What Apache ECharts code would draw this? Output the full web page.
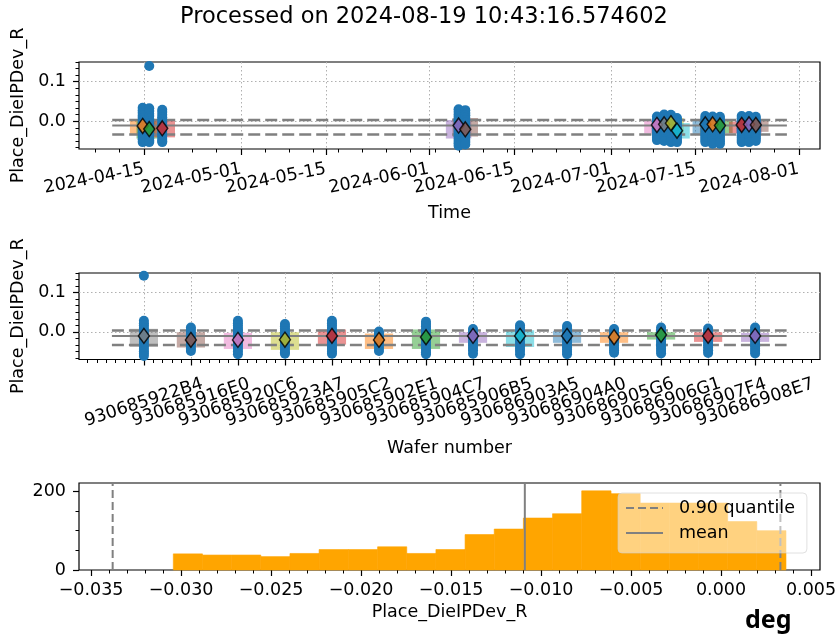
<!DOCTYPE html>
<html>
<head>
<meta charset="utf-8">
<script src="https://cdn.jsdelivr.net/npm/echarts@6/dist/echarts.min.js"></script>
<style>
  html, body { margin: 0; padding: 0; background: #fff; }
  #chart { width: 838px; height: 634px; }
</style>
</head>
<body>
<div id="chart"></div>
<script>
// ---------------- data ----------------
const chartTitle = 'Processed on 2024-08-19 10:43:16.574602';
const measureName = 'Place_DieIPDev_R';
const unitText = 'deg';

// measurement runs in time order
const runTimes = [
  '2024-04-14T19:00', '2024-04-15T21:00', '2024-04-18T00:30',
  '2024-06-05T21:30', '2024-06-07T00:00',
  '2024-07-08T14:30', '2024-07-09T19:00', '2024-07-10T22:00', '2024-07-11T22:00',
  '2024-07-16T14:00', '2024-07-17T19:00', '2024-07-19T00:00',
  '2024-07-22T14:00', '2024-07-23T19:00', '2024-07-24T22:00'
];
const runMeans = [-0.012, -0.020, -0.018, -0.011, -0.0206, -0.0095, -0.008, -0.005, -0.024,
  -0.008, -0.008, -0.011, -0.0095, -0.008, -0.0095];
const runLow = [-0.0325, -0.044, -0.041, -0.044, -0.039, -0.031, -0.035, -0.030, -0.044,
  -0.035, -0.030, -0.030, -0.031, -0.030, -0.027];
const runHigh = [0.0015, 0.000, 0.003, 0.003, 0.008, 0.003, 0.005, 0.008, -0.005,
  0.003, 0.005, 0.003, -0.001, 0.002, 0.003];
const runValues = [
  [0.034, 0.027, 0.021, 0.014, 0.008, 0.002, -0.004, -0.010, -0.016, -0.022, -0.028, -0.034, -0.040, -0.046, -0.053],
  [0.140, 0.033, 0.026, 0.019, 0.013, 0.006, 0.000, -0.006, -0.012, -0.018, -0.025, -0.031, -0.037, -0.043, -0.049, -0.053],
  [0.029, 0.023, 0.016, 0.010, 0.004, -0.003, -0.009, -0.015, -0.021, -0.027, -0.033, -0.039, -0.045, -0.050, -0.053],
  [0.030, 0.024, 0.017, 0.011, 0.005, -0.001, -0.008, -0.014, -0.020, -0.026, -0.032, -0.038, -0.044, -0.050, -0.056, -0.062],
  [0.028, 0.021, 0.015, 0.009, 0.003, -0.004, -0.010, -0.016, -0.022, -0.028, -0.035, -0.041, -0.047, -0.053, -0.059],
  [0.012, 0.006, 0.000, -0.006, -0.012, -0.018, -0.024, -0.030, -0.036, -0.042, -0.048],
  [0.017, 0.011, 0.004, -0.002, -0.008, -0.014, -0.020, -0.027, -0.033, -0.039, -0.045, -0.050],
  [0.016, 0.010, 0.003, -0.003, -0.009, -0.016, -0.022, -0.028, -0.034, -0.040, -0.047, -0.053],
  [0.008, 0.002, -0.004, -0.010, -0.017, -0.023, -0.029, -0.035, -0.041, -0.047, -0.053],
  [0.013, 0.007, 0.001, -0.005, -0.011, -0.018, -0.024, -0.030, -0.036, -0.042, -0.048, -0.053],
  [0.012, 0.006, -0.001, -0.007, -0.013, -0.019, -0.025, -0.031, -0.038, -0.044, -0.050, -0.057],
  [0.011, 0.005, -0.002, -0.008, -0.014, -0.020, -0.026, -0.032, -0.039, -0.045, -0.051, -0.057],
  [0.013, 0.007, 0.000, -0.006, -0.012, -0.018, -0.024, -0.030, -0.036, -0.042, -0.048, -0.053],
  [0.013, 0.006, 0.000, -0.006, -0.013, -0.019, -0.025, -0.031, -0.037, -0.043, -0.049, -0.053],
  [0.011, 0.005, -0.001, -0.007, -0.013, -0.019, -0.026, -0.032, -0.038, -0.044, -0.050]
];

// per wafer
const waferNames = ['930685922B4', '930685916E0', '930685920C6', '930685923A7', '930685905C2',
  '930685902E1', '930685904C7', '930685906B5', '930686903A5', '930686904A0', '930686905G6',
  '930686906G1', '930686907F4', '930686908E7'];
const waferMeans = [-0.0103, -0.0205, -0.0205, -0.020, -0.0103, -0.0205, -0.0137,
  -0.0103, -0.0103, -0.0103, -0.0137, -0.0077, -0.0103, -0.0103];
const waferLow = [-0.0385, -0.040, -0.0436, -0.046, -0.0325, -0.0436, -0.0436,
  -0.028, -0.0385, -0.028, -0.028, -0.0197, -0.0256, -0.0256];
const waferHigh = [0.0077, -0.001, -0.0026, -0.001, 0.006, -0.0043, 0.006,
  -0.001, 0.004, 0.0026, -0.001, -0.001, -0.001, -0.0026];
const waferValues = [
  [0.143, 0.028, 0.022, 0.016, 0.010, 0.004, -0.002, -0.008, -0.014, -0.020, -0.026, -0.032, -0.038, -0.044, -0.050, -0.056, -0.0615],
  [0.011, 0.005, -0.001, -0.007, -0.013, -0.019, -0.025, -0.031, -0.037, -0.043, -0.049],
  [0.028, 0.022, 0.016, 0.010, 0.004, -0.002, -0.008, -0.014, -0.020, -0.026, -0.032, -0.038, -0.044, -0.050, -0.057],
  [0.020, 0.014, 0.008, 0.002, -0.004, -0.010, -0.016, -0.022, -0.028, -0.034, -0.040, -0.046, -0.052, -0.0556],
  [0.028, 0.022, 0.016, 0.010, 0.004, -0.002, -0.008, -0.014, -0.020, -0.026, -0.032, -0.038, -0.044, -0.050, -0.0556],
  [0.001, -0.005, -0.011, -0.017, -0.023, -0.029, -0.035, -0.041, -0.049],
  [0.026, 0.020, 0.014, 0.008, 0.002, -0.004, -0.010, -0.016, -0.022, -0.028, -0.034, -0.040, -0.046, -0.052, -0.057],
  [0.007, 0.001, -0.005, -0.011, -0.017, -0.023, -0.029, -0.035, -0.041, -0.047, -0.0556],
  [0.017, 0.011, 0.005, -0.001, -0.007, -0.013, -0.019, -0.025, -0.031, -0.037, -0.043, -0.049, -0.057],
  [0.015, 0.009, 0.003, -0.003, -0.009, -0.015, -0.021, -0.027, -0.033, -0.039, -0.045, -0.051, -0.057],
  [0.007, 0.001, -0.005, -0.011, -0.017, -0.023, -0.029, -0.035, -0.041, -0.047, -0.053],
  [0.011, 0.005, -0.001, -0.007, -0.013, -0.019, -0.025, -0.031, -0.037, -0.043, -0.049, -0.055],
  [0.0085, 0.002, -0.004, -0.010, -0.016, -0.022, -0.028, -0.034, -0.040, -0.047, -0.054],
  [0.011, 0.005, -0.001, -0.007, -0.013, -0.019, -0.025, -0.031, -0.037, -0.043, -0.049, -0.055]
];

// summary statistics
const overallMean = -0.0109;
const quantileLow = -0.0338;
const quantileHigh = 0.0033;

// histogram of all values
const histEdges = [-0.03043, -0.02881, -0.02719, -0.02557, -0.02395, -0.02233, -0.02070,
  -0.01908, -0.01746, -0.01584, -0.01422, -0.01260, -0.01098, -0.00936, -0.00774,
  -0.00611, -0.00449, -0.00287, -0.00125, 0.00037, 0.00199, 0.00361];
const histCounts = [41, 38, 38, 34, 42, 52, 52, 59, 42, 52, 90, 104, 132, 143, 201, 194,
  170, 170, 170, 123, 100];

// tick labels
const timeTicks = ['2024-04-15', '2024-05-01', '2024-05-15', '2024-06-01', '2024-06-15',
  '2024-07-01', '2024-07-15', '2024-08-01'];
const valueTicks = [0.0, 0.1];
const histValueTicks = [-0.035, -0.030, -0.025, -0.020, -0.015, -0.010, -0.005, 0.000, 0.005];
const histCountTicks = [0, 200];
const quantileLabel = '0.90 quantile';
const meanLabel = 'mean';

// ---------------- layout & style ----------------
const FONT = 'DejaVu Sans';
const FS = 17.5;
const TAB = {
  blue: '#1f77b4', orange: '#ff7f0e', green: '#2ca02c', red: '#d62728', purple: '#9467bd',
  brown: '#8c564b', pink: '#e377c2', gray: '#7f7f7f', olive: '#bcbd22', cyan: '#17becf'
};
const runColors = ['orange', 'green', 'red', 'purple', 'brown', 'pink', 'gray', 'olive', 'cyan',
  'blue', 'orange', 'green', 'red', 'purple', 'brown'];
const waferColors = ['gray', 'brown', 'pink', 'olive', 'red', 'orange', 'green', 'purple', 'cyan',
  'blue', 'orange', 'green', 'red', 'purple'];

const DAY = 86400000;
const ms = s => Date.parse((s.length === 10 ? s + 'T00:00' : s) + ':00Z');
const timeMin = ms('2024-04-04T07:00');
const timeMax = ms('2024-08-04T12:00');
const lineStartTime = ms('2024-04-09T18:30');
const lineEndTime = ms('2024-07-30T01:00');
const runHalfWidth = 2.1 * DAY;
const waferHalfWidth = 0.3;
const catMin = -1.38, catMax = 14.38, catLineStart = -0.68, catLineEnd = 13.67;
const yMin = -0.0705, yMax = 0.15;
const hxMin = -0.03567, hxMax = 0.0055, hyMax = 221;

const pad2 = n => String(n).padStart(2, '0');
const fmtDate = v => { const d = new Date(v); return d.getUTCFullYear() + '-' + pad2(d.getUTCMonth() + 1) + '-' + pad2(d.getUTCDate()); };
const fmtSigned = (v, dp) => (v < -1e-12 ? '\u2212' : '') + Math.abs(v).toFixed(dp);

// minor tick positions (axis decoration)
const minorTimes = [];
for (let t = ms('2024-04-07'); t <= timeMax; t += 4 * DAY) minorTimes.push(t);
const minorY = [];
for (let k = -4; k <= 9; k++) minorY.push(k / 60);
const minorCat = [];
for (let k = -6; k <= 71; k++) minorCat.push(k / 5);
const minorHistX = [];
for (let k = -35; k <= 5; k++) minorHistX.push(k / 1000);
const minorHistY = [50, 100, 150];

const timeTickValues = timeTicks.map(ms);
const waferIdx = waferNames.map((n, i) => i);
// labels split over interleaved axes so neighbouring rotated labels may overlap freely
const every = (arr, n, k) => arr.filter((v, i) => i % n === k);

const labelStyle = { fontFamily: FONT, fontSize: FS, color: '#000' };
const tickLine = { color: '#000', width: 1.2 };
const gridLine = { show: true, lineStyle: { color: '#b0b0b0', width: 1, type: [1.5, 2.5] } };

function mainAxis(o) {
  return Object.assign({
    axisLine: { show: false, onZero: false },
    splitLine: { show: false },
    nameTextStyle: labelStyle,
    nameLocation: 'middle'
  }, o);
}
function minorAxis(o, ticks) {
  return Object.assign({
    axisLine: { show: false, onZero: false },
    axisLabel: { show: false },
    splitLine: { show: false },
    axisTick: { show: true, customValues: ticks, length: 3.5, lineStyle: { color: '#000', width: 1 } }
  }, o);
}
function labelAxis(o, values, labelOpts) {
  return Object.assign({
    axisLine: { show: false, onZero: false },
    axisTick: { show: false },
    splitLine: { show: false },
    axisLabel: Object.assign({ customValues: values, showMinLabel: true, showMaxLabel: true }, labelStyle, labelOpts)
  }, o);
}

const gridBase = { left: 79, width: 741, show: true, borderColor: '#000', borderWidth: 1.2,
  containLabel: false, outerBoundsMode: 'none' };

// ---------------- series data ----------------
const runT = runTimes.map(ms);
const runBoxes = runT.map((t, i) => [t, runLow[i], runHigh[i], i]);
const runPoints = [];
runValues.forEach((vals, i) => vals.forEach(v => runPoints.push([runT[i], v])));
const runDiamonds = runT.map((t, i) => ({ value: [t, runMeans[i]], itemStyle: { color: TAB[runColors[i]] } }));

const waferBoxes = waferNames.map((n, i) => [i, waferLow[i], waferHigh[i], i]);
const waferPoints = [];
waferValues.forEach((vals, i) => vals.forEach(v => waferPoints.push([i, v])));
const waferDiamonds = waferNames.map((n, i) => ({ value: [i, waferMeans[i]], itemStyle: { color: TAB[waferColors[i]] } }));

const histData = histCounts.map((c, i) => [histEdges[i], histEdges[i + 1], c]);

function boxRenderer(half, colorList) {
  return function (params, api) {
    const x = api.value(0), lo = api.value(1), hi = api.value(2), ci = api.value(3);
    const a = api.coord([x - half, hi]);
    const b = api.coord([x + half, lo]);
    return {
      type: 'rect',
      shape: { x: a[0], y: a[1], width: b[0] - a[0], height: b[1] - a[1] },
      style: { fill: TAB[colorList[ci]], opacity: 0.5 }
    };
  };
}

function hLines(xIdx, yIdx, x0, x1) {
  const base = { type: 'line', xAxisIndex: xIdx, yAxisIndex: yIdx, symbol: 'none', silent: true, z: 2 };
  return [
    Object.assign({}, base, { data: [[x0, overallMean], [x1, overallMean]],
      lineStyle: { color: '#808080', width: 2 } }),
    Object.assign({}, base, { data: [[x0, quantileHigh], [x1, quantileHigh]],
      lineStyle: { color: '#808080', width: 2.5, type: [12, 5] } }),
    Object.assign({}, base, { data: [[x0, quantileLow], [x1, quantileLow]],
      lineStyle: { color: '#808080', width: 2.5, type: [12, 5] } })
  ];
}

const diamondStyle = { borderColor: '#000', borderWidth: 1.5 };
const dateLabelOpts = { formatter: fmtDate, rotate: 11, margin: 20 };
const waferLabelOpts = { formatter: v => waferNames[Math.round(v)], rotate: 18, margin: 43,
  align: 'center', verticalAlign: 'middle' };

const option = {
  animation: false,
  backgroundColor: '#fff',
  title: [
    { text: chartTitle, left: 180, top: 6, padding: 0,
      textStyle: { fontFamily: FONT, fontSize: 22.5, fontWeight: 'normal', color: '#000' } },
    { text: unitText, left: 745, top: 608, padding: 0,
      textStyle: { fontFamily: 'Noto Sans', fontSize: 25, fontWeight: 'bold', color: '#000' } }
  ],
  legend: {
    data: [quantileLabel, meanLabel],
    orient: 'vertical', left: 618, top: 493,
    padding: [6, 12, 11, 7], itemGap: 7, itemWidth: 37, itemHeight: 14,
    backgroundColor: 'rgba(255,255,255,0.5)', borderColor: 'rgba(204,204,204,0.6)',
    borderWidth: 1, borderRadius: 4,
    itemStyle: { opacity: 0 },
    textStyle: { fontFamily: FONT, fontSize: FS, color: '#000', padding: [0, 0, 0, 11] },
    selectedMode: false
  },
  grid: [
    Object.assign({ top: 62, height: 87 }, gridBase),
    Object.assign({ top: 273, height: 86.5 }, gridBase),
    Object.assign({ top: 483, height: 87 }, gridBase)
  ],
  xAxis: [
    // 0: time panel, major ticks + grid + name
    mainAxis({ type: 'value', gridIndex: 0, min: timeMin, max: timeMax, position: 'bottom',
      name: 'Time', nameGap: 55,
      axisTick: { show: true, customValues: timeTickValues, length: 6, lineStyle: tickLine },
      axisLabel: { show: false },
      splitLine: gridLine }),
    // 1: time panel minor ticks
    minorAxis({ type: 'value', gridIndex: 0, min: timeMin, max: timeMax, position: 'bottom' }, minorTimes),
    // 2: wafer panel, major ticks + grid + name
    mainAxis({ type: 'value', gridIndex: 1, min: catMin, max: catMax, position: 'bottom',
      name: 'Wafer number', nameGap: 80,
      axisTick: { show: true, customValues: waferIdx, length: 6, lineStyle: tickLine },
      axisLabel: { show: false },
      splitLine: gridLine }),
    // 3: wafer panel minor ticks
    minorAxis({ type: 'value', gridIndex: 1, min: catMin, max: catMax, position: 'bottom' }, minorCat),
    // 4: histogram value axis
    mainAxis({ type: 'value', gridIndex: 2, min: hxMin, max: hxMax, position: 'bottom',
      name: measureName, nameGap: 33,
      axisTick: { show: true, customValues: histValueTicks, length: 6, lineStyle: tickLine },
      axisLabel: Object.assign({ customValues: histValueTicks, formatter: v => fmtSigned(v, 3), margin: 11,
        showMinLabel: true, showMaxLabel: true }, labelStyle) }),
    // 5: histogram minor ticks
    minorAxis({ type: 'value', gridIndex: 2, min: hxMin, max: hxMax, position: 'bottom' }, minorHistX),
    // 6-7: date labels
    labelAxis({ type: 'value', gridIndex: 0, min: timeMin, max: timeMax, position: 'bottom' },
      every(timeTickValues, 2, 0), dateLabelOpts),
    labelAxis({ type: 'value', gridIndex: 0, min: timeMin, max: timeMax, position: 'bottom' },
      every(timeTickValues, 2, 1), dateLabelOpts),
    // 8-10: wafer labels
    labelAxis({ type: 'value', gridIndex: 1, min: catMin, max: catMax, position: 'bottom' },
      every(waferIdx, 3, 0), waferLabelOpts),
    labelAxis({ type: 'value', gridIndex: 1, min: catMin, max: catMax, position: 'bottom' },
      every(waferIdx, 3, 1), waferLabelOpts),
    labelAxis({ type: 'value', gridIndex: 1, min: catMin, max: catMax, position: 'bottom' },
      every(waferIdx, 3, 2), waferLabelOpts)
  ],
  yAxis: [
    mainAxis({ type: 'value', gridIndex: 0, min: yMin, max: yMax, position: 'left',
      name: measureName, nameGap: 48, nameRotate: 90,
      axisTick: { show: true, customValues: valueTicks, length: 6, lineStyle: tickLine },
      axisLabel: Object.assign({ customValues: valueTicks, formatter: v => fmtSigned(v, 1), margin: 13 }, labelStyle),
      splitLine: gridLine }),
    minorAxis({ type: 'value', gridIndex: 0, min: yMin, max: yMax, position: 'left' }, minorY),
    mainAxis({ type: 'value', gridIndex: 1, min: yMin, max: yMax, position: 'left',
      name: measureName, nameGap: 48, nameRotate: 90,
      axisTick: { show: true, customValues: valueTicks, length: 6, lineStyle: tickLine },
      axisLabel: Object.assign({ customValues: valueTicks, formatter: v => fmtSigned(v, 1), margin: 13 }, labelStyle),
      splitLine: gridLine }),
    minorAxis({ type: 'value', gridIndex: 1, min: yMin, max: yMax, position: 'left' }, minorY),
    mainAxis({ type: 'value', gridIndex: 2, min: 0, max: hyMax, position: 'left',
      axisTick: { show: true, customValues: histCountTicks, length: 6, lineStyle: tickLine },
      axisLabel: Object.assign({ customValues: histCountTicks, formatter: v => String(Math.round(v)), margin: 13 }, labelStyle) }),
    minorAxis({ type: 'value', gridIndex: 2, min: 0, max: hyMax, position: 'left' }, minorHistY)
  ],
  series: [
    // time panel
    { type: 'custom', xAxisIndex: 0, yAxisIndex: 0, data: runBoxes, z: 1, silent: true,
      renderItem: boxRenderer(runHalfWidth, runColors), encode: { x: 0, y: [1, 2] } },
    ...hLines(0, 0, lineStartTime, lineEndTime),
    { type: 'scatter', xAxisIndex: 0, yAxisIndex: 0, data: runPoints, z: 3, symbolSize: 10,
      itemStyle: { color: TAB.blue, opacity: 1 }, silent: true },
    { type: 'scatter', xAxisIndex: 0, yAxisIndex: 0, data: runDiamonds, z: 4, symbol: 'diamond',
      symbolSize: [11, 15], itemStyle: diamondStyle, silent: true },
    // wafer panel
    { type: 'custom', xAxisIndex: 2, yAxisIndex: 2, data: waferBoxes, z: 1, silent: true,
      renderItem: boxRenderer(waferHalfWidth, waferColors), encode: { x: 0, y: [1, 2] } },
    ...hLines(2, 2, catLineStart, catLineEnd),
    { type: 'scatter', xAxisIndex: 2, yAxisIndex: 2, data: waferPoints, z: 3, symbolSize: 10,
      itemStyle: { color: TAB.blue, opacity: 1 }, silent: true },
    { type: 'scatter', xAxisIndex: 2, yAxisIndex: 2, data: waferDiamonds, z: 4, symbol: 'diamond',
      symbolSize: [11, 15], itemStyle: diamondStyle, silent: true },
    // histogram panel
    { type: 'custom', xAxisIndex: 4, yAxisIndex: 4, data: histData, z: 1, silent: true,
      encode: { x: [0, 1], y: 2 },
      renderItem: function (params, api) {
        const a = api.coord([api.value(0), api.value(2)]);
        const b = api.coord([api.value(1), 0]);
        return { type: 'rect', shape: { x: a[0], y: a[1], width: b[0] - a[0], height: b[1] - a[1] },
          style: { fill: '#ffa500', stroke: '#ffa500', lineWidth: 0.6 } };
      } },
    { name: quantileLabel, type: 'line', xAxisIndex: 4, yAxisIndex: 4, symbol: 'none', z: 2, silent: true,
      data: [[quantileLow, 0], [quantileLow, hyMax]], lineStyle: { color: '#808080', width: 2, type: [8, 4] } },
    { name: quantileLabel, type: 'line', xAxisIndex: 4, yAxisIndex: 4, symbol: 'none', z: 2, silent: true,
      data: [[quantileHigh, 0], [quantileHigh, hyMax]], lineStyle: { color: '#808080', width: 2, type: [8, 4] } },
    { name: meanLabel, type: 'line', xAxisIndex: 4, yAxisIndex: 4, symbol: 'none', z: 2, silent: true,
      data: [[overallMean, 0], [overallMean, hyMax]], lineStyle: { color: '#808080', width: 2 } }
  ]
};

const chart = echarts.init(document.getElementById('chart'), null, { renderer: 'canvas' });
chart.setOption(option);
</script>
</body>
</html>
